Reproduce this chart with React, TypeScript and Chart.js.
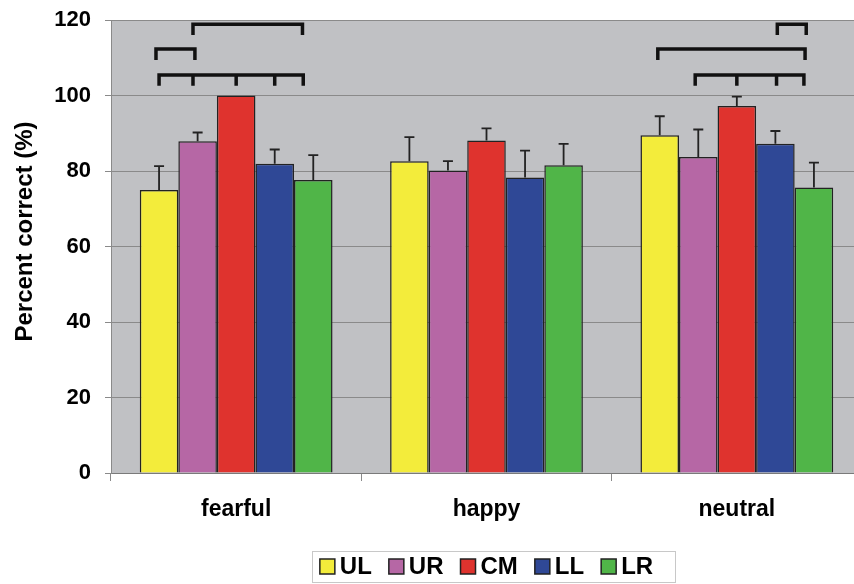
import React, { useEffect, useRef } from "react";
import { Chart, registerables } from "chart.js";

Chart.register(...registerables);

const categories = ["fearful", "happy", "neutral"];
const seriesNames = ["UL", "UR", "CM", "LL", "LR"];
const seriesColors = ["#f3ec3b", "#b667a5", "#df332e", "#2f4896", "#50b548"];

const ulValues = [75.0, 82.6, 89.5];
const urValues = [87.9, 80.1, 83.7];
const cmValues = [100.0, 88.1, 97.2];
const llValues = [81.9, 78.3, 87.2];
const lrValues = [77.6, 81.5, 75.6];

const ulErrors = [6.3, 6.4, 5.0];
const urErrors = [2.3, 2.5, 7.3];
const cmErrors = [0, 3.2, 2.5];
const llErrors = [3.8, 7.1, 3.4];
const lrErrors = [6.6, 5.7, 6.6];

const seriesValues = [ulValues, urValues, cmValues, llValues, lrValues];
const seriesErrors = [ulErrors, urErrors, cmErrors, llErrors, lrErrors];

const yMin = 0;
const yMax = 120;
const yStep = 20;

// significance brackets: horizontal line value and tick-end value per level
const bracketLineValues = [105.4, 112.3, 118.9];
const bracketTickValues = [102.6, 109.4, 116.0];
// stops are positions in series-index units within a category
const brackets = [
  { category: 0, level: 0, stops: [0, 0.88, 2, 3, 3.74] },
  { category: 0, level: 1, stops: [-0.08, 0.93] },
  { category: 0, level: 2, stops: [0.88, 3.72] },
  { category: 2, level: 0, stops: [0.92, 2, 3.03, 3.74] },
  { category: 2, level: 1, stops: [-0.05, 3.77] },
  { category: 2, level: 2, stops: [3.05, 3.8] },
];

const yTitle = "Percent correct (%)";
const FONT = '"Liberation Sans", Arial, Helvetica, sans-serif';

const bgPlugin = {
  id: "plotBg",
  beforeDraw(chart: any) {
    const { ctx, chartArea: a } = chart;
    ctx.save();
    ctx.fillStyle = "#c0c1c4";
    ctx.fillRect(a.left, a.top, a.right - a.left, a.bottom - a.top);
    ctx.restore();
  },
};

const errorBarPlugin = {
  id: "errorBars",
  afterDatasetsDraw(chart: any) {
    const { ctx } = chart;
    const y = chart.scales.y;
    ctx.save();
    ctx.strokeStyle = "#222";
    ctx.lineWidth = 1.8;
    chart.data.datasets.forEach((ds: any, i: number) => {
      const meta = chart.getDatasetMeta(i);
      meta.data.forEach((bar: any, j: number) => {
        const e = seriesErrors[i][j];
        if (!e) return;
        const v = ds.data[j];
        const yTop = y.getPixelForValue(v + e);
        const yBase = y.getPixelForValue(v);
        ctx.beginPath();
        ctx.moveTo(bar.x, yBase);
        ctx.lineTo(bar.x, yTop);
        ctx.moveTo(bar.x - 5, yTop);
        ctx.lineTo(bar.x + 5, yTop);
        ctx.stroke();
      });
    });
    ctx.restore();
  },
};

const bracketPlugin = {
  id: "brackets",
  afterDatasetsDraw(chart: any) {
    const { ctx } = chart;
    const y = chart.scales.y;
    const n = chart.data.datasets.length;
    const stopX = (cat: number, s: number) => {
      const i0 = Math.max(0, Math.min(n - 2, Math.floor(s)));
      const x0 = chart.getDatasetMeta(i0).data[cat].x;
      const x1 = chart.getDatasetMeta(i0 + 1).data[cat].x;
      return x0 + (s - i0) * (x1 - x0);
    };
    ctx.save();
    ctx.strokeStyle = "#111";
    ctx.lineWidth = 3.5;
    ctx.lineCap = "butt";
    ctx.lineJoin = "miter";
    brackets.forEach((b) => {
      const ly = y.getPixelForValue(bracketLineValues[b.level]);
      const ty = y.getPixelForValue(bracketTickValues[b.level]);
      const xs = b.stops.map((s) => stopX(b.category, s));
      ctx.beginPath();
      ctx.moveTo(xs[0], ty);
      ctx.lineTo(xs[0], ly);
      ctx.lineTo(xs[xs.length - 1], ly);
      ctx.lineTo(xs[xs.length - 1], ty);
      for (let k = 1; k < xs.length - 1; k++) {
        ctx.moveTo(xs[k], ly);
        ctx.lineTo(xs[k], ty);
      }
      ctx.stroke();
    });
    ctx.restore();
  },
};

const titleLegendPlugin = {
  id: "titleLegend",
  afterDraw(chart: any) {
    const { ctx, chartArea: a } = chart;
    ctx.save();
    // y axis title
    ctx.font = `bold 24px ${FONT}`;
    ctx.fillStyle = "#000";
    ctx.translate(31.5, (a.top + a.bottom) / 2 - 15);
    ctx.rotate(-Math.PI / 2);
    ctx.textAlign = "center";
    ctx.textBaseline = "alphabetic";
    ctx.fillText(yTitle, 0, 0);
    ctx.restore();

    // legend
    ctx.save();
    ctx.font = `bold 24px ${FONT}`;
    const names = chart.data.datasets.map((d: any) => d.label);
    const colors = chart.data.datasets.map((d: any) => d.backgroundColor);
    const widths = names.map((t: string) => ctx.measureText(t).width);
    const box = 15;
    const gap = 5;
    const itemGap = 17;
    const total =
      widths.reduce((s: number, w: number) => s + box + gap + w, 0) +
      itemGap * (names.length - 1);
    const cx = (a.left + a.right) / 2 + 7;
    const cy = chart.height - 17.5;
    ctx.strokeStyle = "#c8c8c8";
    ctx.lineWidth = 1;
    ctx.strokeRect(Math.round(cx - 181.5) + 0.5, Math.round(cy - 15.5) + 0.5, 363, 31);
    let x = cx - 7 - total / 2;
    ctx.textAlign = "left";
    ctx.textBaseline = "middle";
    names.forEach((t: string, i: number) => {
      ctx.fillStyle = colors[i];
      ctx.fillRect(x, cy - box / 2, box, box);
      ctx.strokeStyle = "#222";
      ctx.lineWidth = 1.5;
      ctx.strokeRect(x, cy - box / 2, box, box);
      ctx.fillStyle = "#000";
      ctx.fillText(t, x + box + gap, cy + 1);
      x += box + gap + widths[i] + itemGap;
    });
    ctx.restore();
  },
};

export default function App() {
  const ref = useRef<HTMLCanvasElement | null>(null);
  useEffect(() => {
    if (!ref.current) return;
    const chart = new Chart(ref.current, {
      type: "bar",
      data: {
        labels: categories,
        datasets: seriesNames.map((name, i) => ({
          label: name,
          data: seriesValues[i],
          backgroundColor: seriesColors[i],
          borderColor: "#222",
          borderWidth: 1.5,
          categoryPercentage: 0.77,
          barPercentage: 1.0,
        })),
      },
      options: {
        responsive: false,
        animation: false,
        devicePixelRatio: 1,
        layout: { padding: { left: 0, top: 20, right: 18, bottom: 51 } },
        plugins: {
          legend: { display: false },
          tooltip: { enabled: false },
        },
        scales: {
          x: {
            grid: {
              display: true,
              drawOnChartArea: false,
              drawTicks: true,
              tickLength: 8,
              color: "#8a8a8a",
              offset: true,
            },
            border: { display: true, color: "#7a7a7a", width: 1 },
            ticks: {
              color: "#000",
              font: { family: FONT, size: 23, weight: "bold" },
              padding: 15,
            },
            afterFit: (scale: any) => {
              scale.height = 60;
            },
          },
          y: {
            min: yMin,
            max: yMax,
            ticks: {
              stepSize: yStep,
              color: "#000",
              font: { family: FONT, size: 22, weight: "bold" },
              padding: 14,
            },
            grid: {
              color: "#8a8a8a",
              tickLength: 6,
              drawTicks: true,
            },
            border: { display: true, color: "#8a8a8a", width: 1 },
            afterFit: (scale: any) => {
              scale.width = 111;
              scale.paddingTop = 0;
              scale.paddingBottom = 0;
            },
          },
        },
      } as any,
      plugins: [bgPlugin, errorBarPlugin, bracketPlugin, titleLegendPlugin],
    });
    return () => chart.destroy();
  }, []);

  return (
    <div
      style={{
        position: "absolute",
        left: 0,
        top: 0,
        width: 854,
        height: 584,
        overflow: "hidden",
        background: "#fff",
      }}
    >
      <canvas ref={ref} width={880} height={584} style={{ display: "block" }} />
    </div>
  );
}
